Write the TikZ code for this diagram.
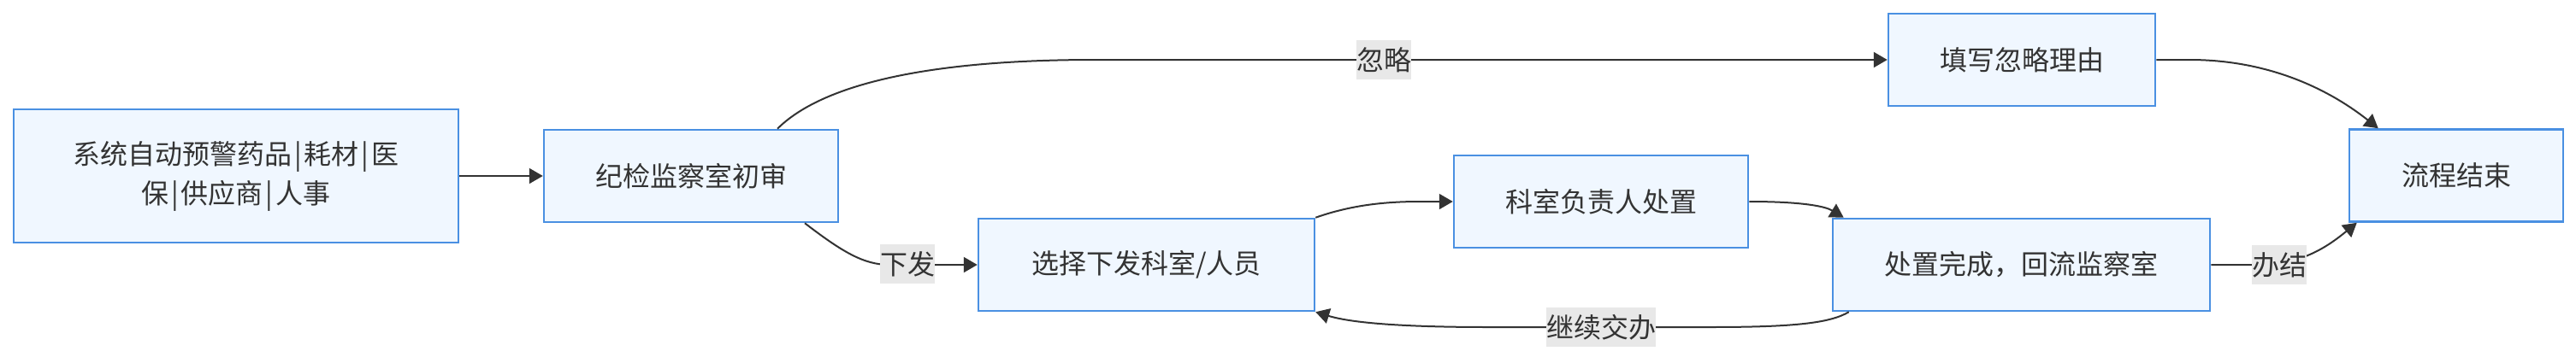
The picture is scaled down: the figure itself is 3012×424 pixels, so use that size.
\documentclass[tikz,border=0pt]{standalone}
\usepackage{fontspec}
\setmainfont{Noto Sans CJK SC}
\usetikzlibrary{arrows.meta,positioning}
\definecolor{boxfill}{HTML}{F0F7FF}
\definecolor{boxline}{HTML}{4A90E2}
\definecolor{ink}{HTML}{333333}
\definecolor{lblfill}{HTML}{E8E8E8}
\newcommand{\pipesep}{\hspace{3pt}|\hspace{3pt}}

\begin{document}
\begin{tikzpicture}[x=1pt, y=-1pt, every node/.style={font=\fontsize{32}{46}\selectfont, text=ink}]
    \tikzset{box/.style= {draw=boxline,
        line width    = 2.5pt,
        fill          = boxfill,
        minimum height= 108pt,
        inner sep     = 0pt,
        align         = center},
      lbl/.style = {fill=lblfill, inner sep=0pt, minimum height=46pt},
      edge/.style = {draw=ink, line width=2pt, -{Triangle[length=16pt,width=18pt]}}}
    \useasboundingbox (0,0) rectangle (3012,424);
    \node[box, minimum width=520pt, minimum height=156pt] (alert) at (276,206) {系统自动预警药品\pipesep 耗材\pipesep 医\\保\pipesep 供应商\pipesep 人事};
    \node[box, minimum width=344pt] (review) at (808,206) {纪检监察室初审};
    \node[box, minimum width=393pt] (assign) at (1340.5,310) {选择下发科室/人员};
    \node[box, minimum width=344pt] (handle) at (1872,236) {科室负责人处置};
    \node[box, minimum width=441pt] (back) at (2363.5,310) {处置完成，回流监察室};
    \node[box, minimum width=312pt] (reason) at (2364,70) {填写忽略理由};
    \node[box, minimum width=250pt] (done) at (2872,205.5) {流程结束};
    \draw[edge] (alert) -- (review);
    \draw[edge] ([xshift=101pt]review.north) .. controls (960,100) and (1080,70) .. (1280,70) -- (reason.west);
    \draw[edge] ([xshift=133pt]review.south) .. controls (985,295) and (1010,310) .. (1040,310) -- (assign.west);
    \draw[edge] (assign.north east) .. controls (1580,240) and (1620,236) .. (1660,236) -- (handle.west);
    \draw[edge] (handle.east) .. controls (2110,236) and (2135,242) .. ([xshift=14pt]back.north west);
    \draw[edge] ([xshift=20pt]back.south west) .. controls (2140,378) and (2100,383) .. (2000,383) -- (1740,383) .. controls (1640,383) and (1580,378) .. (assign.south east);
    \draw[edge] (reason.east) -- (2560,70) .. controls (2660,70) and (2730,110) .. ([xshift=35pt]done.north west);
    \draw[edge] (back.east) -- (2640,310) .. controls (2690,310) and (2720,290) .. ([xshift=10pt]done.south west);
    % edge labels
    \node[lbl] (lIgnore) at (1618,70) {忽略};
    \node[lbl] (lSend) at (1061,309) {下发};
    \node[lbl] (lAgain) at (1872,383) {继续交办};
    \node[lbl] (lClose) at (2665,310) {办结};
\end{tikzpicture}
\end{document}
